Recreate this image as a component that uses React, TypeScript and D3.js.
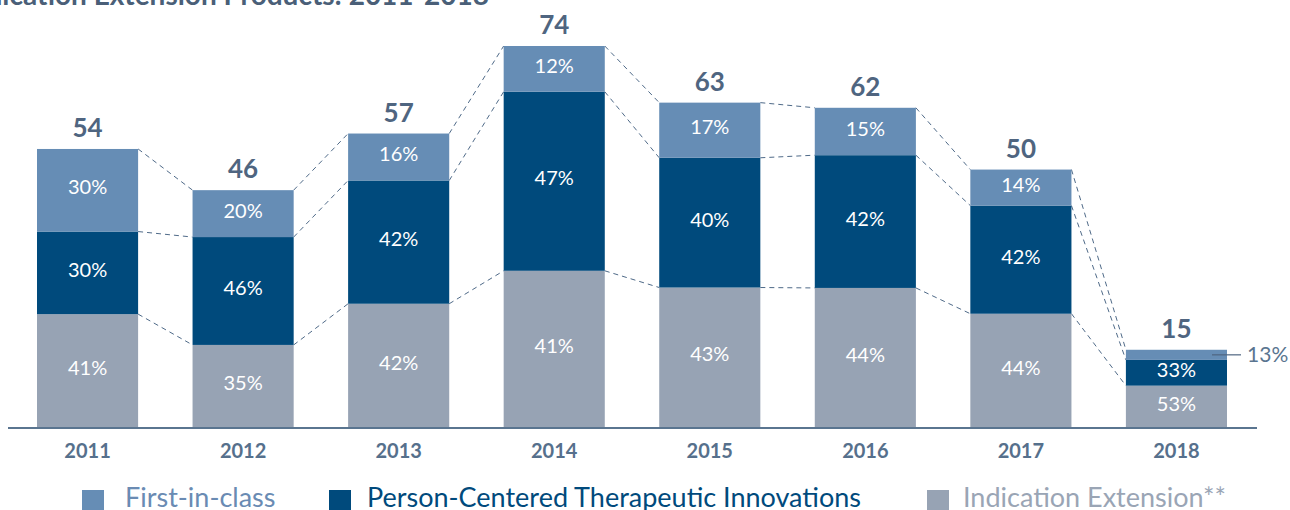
import React from "react"
import * as d3 from "d3"

// chart data
const years = ["2011", "2012", "2013", "2014", "2015", "2016", "2017", "2018"]
const totals = [54, 46, 57, 74, 63, 62, 50, 15]
const firstInClass = [30, 20, 16, 12, 17, 15, 14, 13]
const personCentered = [30, 46, 42, 47, 40, 42, 42, 33]
const indicationExt = [41, 35, 42, 41, 43, 44, 44, 53]
const legendLabels = ["First-in-class", "Person-Centered Therapeutic Innovations", "Indication Extension**"]

const colors = ["#668db5", "#004a7c", "#97a3b4"]
const labelColor = "#4f6580"
const font = "Lato, 'Noto Sans', sans-serif"

const W = 1290
const H = 510
const baseY = 427

export default function App() {
    const x = d3.scaleBand<string>()
        .domain(years)
        .range([37, 1227])
        .paddingInner(0.35)
        .paddingOuter(0)
    const y = d3.scaleLinear().domain([0, 74]).range([baseY, 46])
    const bw = x.bandwidth()

    // stack: bottom = indication extension, then person-centered, then first-in-class
    const rows = years.map((yr, i) => {
        const sum = firstInClass[i] + personCentered[i] + indicationExt[i]
        const parts = [indicationExt[i], personCentered[i], firstInClass[i]]
        let acc = 0
        const segs = parts.map((p, k) => {
            const v0 = acc
            acc += (totals[i] * p) / sum
            return { y0: y(v0), y1: y(acc), pct: p, color: colors[2 - k], k }
        })
        return { yr, x0: x(yr) as number, segs, total: totals[i] }
    })

    const links: { x1: number; y1: number; x2: number; y2: number }[] = []
    for (let i = 0; i < rows.length - 1; i++) {
        const a = rows[i]
        const b = rows[i + 1]
        // boundaries: top of IE, top of PC, top of FIC
        for (let k = 0; k < 3; k++) {
            links.push({ x1: a.x0 + bw, y1: a.segs[k].y1, x2: b.x0, y2: b.segs[k].y1 })
        }
    }

    return (
        <svg width={W} height={H} style={{ position: "absolute", left: 0, top: 0 }} fontFamily={font}>
            <text x={489} y={5} textAnchor="end" fontSize={28} fontWeight="bold" fill="#4a5f78">
                Indication Extension Products: 2011-2018
            </text>

            {links.map((l, i) => (
                <line key={i} x1={l.x1} y1={l.y1} x2={l.x2} y2={l.y2}
                    stroke="#4f6a88" strokeWidth={1} strokeDasharray="5,4" />
            ))}

            {rows.map((r, i) => (
                <g key={r.yr}>
                    {r.segs.map(s => (
                        <rect key={s.k} x={r.x0} y={s.y1} width={bw} height={s.y0 - s.y1} fill={s.color} />
                    ))}
                    {r.segs.map(s => {
                        const small = s.y0 - s.y1 < 16
                        if (small) {
                            const cy = (s.y0 + s.y1) / 2
                            return (
                                <g key={"l" + s.k}>
                                    <line x1={r.x0 + bw - 15} x2={r.x0 + bw + 14} y1={cy} y2={cy} stroke="#4f6580" strokeWidth={1.2} />
                                    <text x={r.x0 + bw + 20} y={cy} dy="0.36em" fontSize={21} fill="#5a7590">{s.pct}%</text>
                                </g>
                            )
                        }
                        return (
                            <text key={"l" + s.k} x={r.x0 + bw / 2} y={(s.y0 + s.y1) / 2 - 3} dy="0.36em"
                                textAnchor="middle" fontSize={20} fill="#ffffff">
                                {s.pct}%
                            </text>
                        )
                    })}
                    <text x={r.x0 + bw / 2} y={y(r.total) - 12} textAnchor="middle" fontSize={26}
                        fontWeight="bold" fill={labelColor}>
                        {r.total}
                    </text>
                    <text x={r.x0 + bw / 2} y={458} textAnchor="middle" fontSize={20}
                        fontWeight="bold" fill="#56708c">
                        {r.yr}
                    </text>
                </g>
            ))}

            <line x1={8} x2={1257} y1={baseY + 1} y2={baseY + 1} stroke="#5a7590" strokeWidth={2} />

            {legendLabels.map((lab, i) => {
                const lx = [82, 329, 927][i]
                const tx = [125, 367, 963][i]
                return (
                    <g key={lab}>
                        <rect x={lx} y={490} width={22} height={22} fill={colors[i]} />
                        <text x={tx} y={507} fontSize={27} fill={["#6a8bb3", "#004a7c", "#9aa5b5"][i]}>
                            {lab}
                        </text>
                    </g>
                )
            })}
        </svg>
    )
}
